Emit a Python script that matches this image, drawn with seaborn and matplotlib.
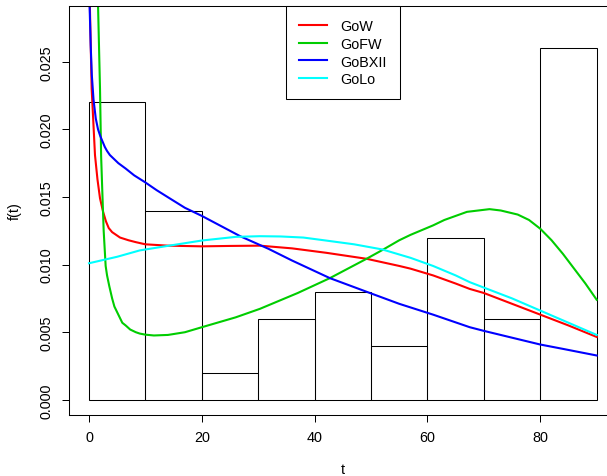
import matplotlib
matplotlib.use("Agg")
import matplotlib.pyplot as plt
import seaborn as sns

# Histogram (density per bin)
bin_edges = [0, 10, 20, 30, 40, 50, 60, 70, 80, 90]
bin_density = [0.022, 0.014, 0.002, 0.006, 0.008, 0.004, 0.012, 0.006, 0.026]

# GoW (red)
t_gow = [0.15, 0.47, 1.06, 1.5, 1.95, 2.5, 3.0, 3.5, 4.1, 5.5, 7, 8.3, 10, 14, 20, 25, 30.3, 36, 42.1, 49.2, 55, 57, 61, 65, 67.5, 70, 75, 80, 85, 90]
f_gow = [0.0292, 0.0230, 0.0181, 0.0163, 0.0149, 0.0139, 0.0132, 0.0127, 0.0124, 0.0120, 0.0118, 0.01166, 0.0115, 0.0114, 0.01135, 0.01138, 0.0114, 0.0112, 0.01087, 0.01043, 0.0099, 0.0097, 0.0092, 0.0086, 0.0082, 0.0079, 0.0071, 0.0063, 0.0055, 0.00465]

# GoFW (green)
t_gofw = [1.6, 1.95, 2.15, 2.4, 2.6, 2.95, 3.2, 3.6, 4.1, 4.5, 5.2, 5.9, 6.5, 7.3, 8.3, 9, 10, 11.5, 14, 17, 20, 26, 30.3, 37, 42.7, 49.2, 52.1, 55, 57, 61, 63, 67, 69, 71, 73, 76, 78, 80, 82, 84, 86, 88, 90]
f_gofw = [0.0292, 0.0230, 0.0180, 0.0149, 0.0125, 0.0099, 0.0092, 0.0084, 0.0075, 0.0069, 0.0063, 0.0057, 0.0055, 0.0052, 0.0050, 0.0049, 0.00482, 0.00476, 0.0048, 0.0050, 0.00537, 0.0061, 0.00673, 0.0079, 0.0090, 0.01043, 0.0111, 0.0118, 0.0122, 0.0129, 0.0133, 0.0139, 0.0140, 0.0141, 0.0140, 0.0137, 0.0133, 0.01265, 0.0118, 0.0108, 0.0097, 0.0086, 0.0074]

# GoBXII (blue)
t_gobxii = [0.1, 0.3, 0.5, 0.8, 1.2, 1.6, 2.0, 2.3, 2.8, 3.2, 3.7, 4.2, 5.2, 6.5, 8, 9.9, 12, 14.3, 17, 20, 26.8, 31.8, 36, 42.7, 49.8, 55, 61, 67.5, 70, 80, 84, 90]
f_gobxii = [0.0292, 0.0262, 0.0240, 0.0222, 0.0208, 0.0200, 0.0195, 0.0192, 0.0187, 0.0184, 0.0181, 0.0179, 0.0175, 0.0171, 0.0166, 0.0161, 0.0155, 0.0149, 0.0142, 0.0136, 0.0121, 0.01117, 0.0103, 0.0090, 0.0079, 0.0071, 0.0063, 0.00537, 0.0051, 0.00409, 0.00377, 0.00328]

# GoLo (cyan)
t_golo = [0, 5, 9, 14.2, 20, 26, 30.3, 34, 38, 42, 47, 52, 57, 61, 65, 67.5, 70, 75, 80, 85, 90]
f_golo = [0.0101, 0.01058, 0.01105, 0.0114, 0.01178, 0.01205, 0.0121, 0.01208, 0.0120, 0.01178, 0.0115, 0.01112, 0.0105, 0.0099, 0.0092, 0.0087, 0.0083, 0.0075, 0.0066, 0.0057, 0.0048]

series = [("GoW", t_gow, f_gow, "#FF0000"),
          ("GoFW", t_gofw, f_gofw, "#00CD00"),
          ("GoBXII", t_gobxii, f_gobxii, "#0000FF"),
          ("GoLo", t_golo, f_golo, "#00FFFF")]

x_ticks = [0, 20, 40, 60, 80]
y_ticks = [0.000, 0.005, 0.010, 0.015, 0.020, 0.025]

plt.rcParams['font.family'] = ['Liberation Sans', 'DejaVu Sans']
FS = 10.4

fig = plt.figure(figsize=(6.07, 4.77), dpi=100)
ax = fig.add_axes([68.7 / 607, 61 / 477, 548.3 / 607, 409 / 477])

mids = [(a + b) / 2 for a, b in zip(bin_edges[:-1], bin_edges[1:])]
sns.histplot(x=mids, weights=bin_density, bins=bin_edges, stat="count",
             fill=False, color="black", linewidth=0.75, ax=ax)
for p in ax.patches:
    p.set_edgecolor("black")
    p.set_linewidth(0.75)

for name, t, f, c in series:
    sns.lineplot(x=t, y=f, color=c, linewidth=1.5, ax=ax, label=name,
                 sort=False, estimator=None)

ax.set_xlim(-3.6, 93.6)
ax.set_ylim(-0.00112, 0.02912)
ax.set_xticks(x_ticks)
ax.set_xticklabels([str(v) for v in x_ticks])
ax.set_yticks(y_ticks)
ax.set_yticklabels([f"{v:.3f}" for v in y_ticks])
ax.tick_params(axis='both', direction='out', length=5.0, width=0.72,
               color='black', labelsize=FS, labelcolor='black')
ax.tick_params(axis='x', pad=6.1)
ax.tick_params(axis='y', pad=6.1)
for lab in ax.get_yticklabels():
    lab.set_rotation(90)
    lab.set_va('center')
    lab.set_ha('right')

for s in ax.spines.values():
    s.set_linewidth(0.75)
    s.set_color('black')

ax.set_xlabel("t", fontsize=FS)
ax.set_ylabel("f(t)", fontsize=FS)
ax.xaxis.set_label_coords(0.5, -0.115)
ax.yaxis.set_label_coords(-0.085, 0.5)

leg = ax.legend(loc='upper center', bbox_to_anchor=(0.5, 1.0), fontsize=FS,
                frameon=True, fancybox=False, edgecolor='black', framealpha=1,
                borderaxespad=0, borderpad=0.9, handlelength=1.94,
                handletextpad=0.9, labelspacing=0.26)
leg.get_frame().set_linewidth(0.75)
for line in leg.get_lines():
    line.set_linewidth(1.5)

fig.savefig("out.png", dpi=100)
